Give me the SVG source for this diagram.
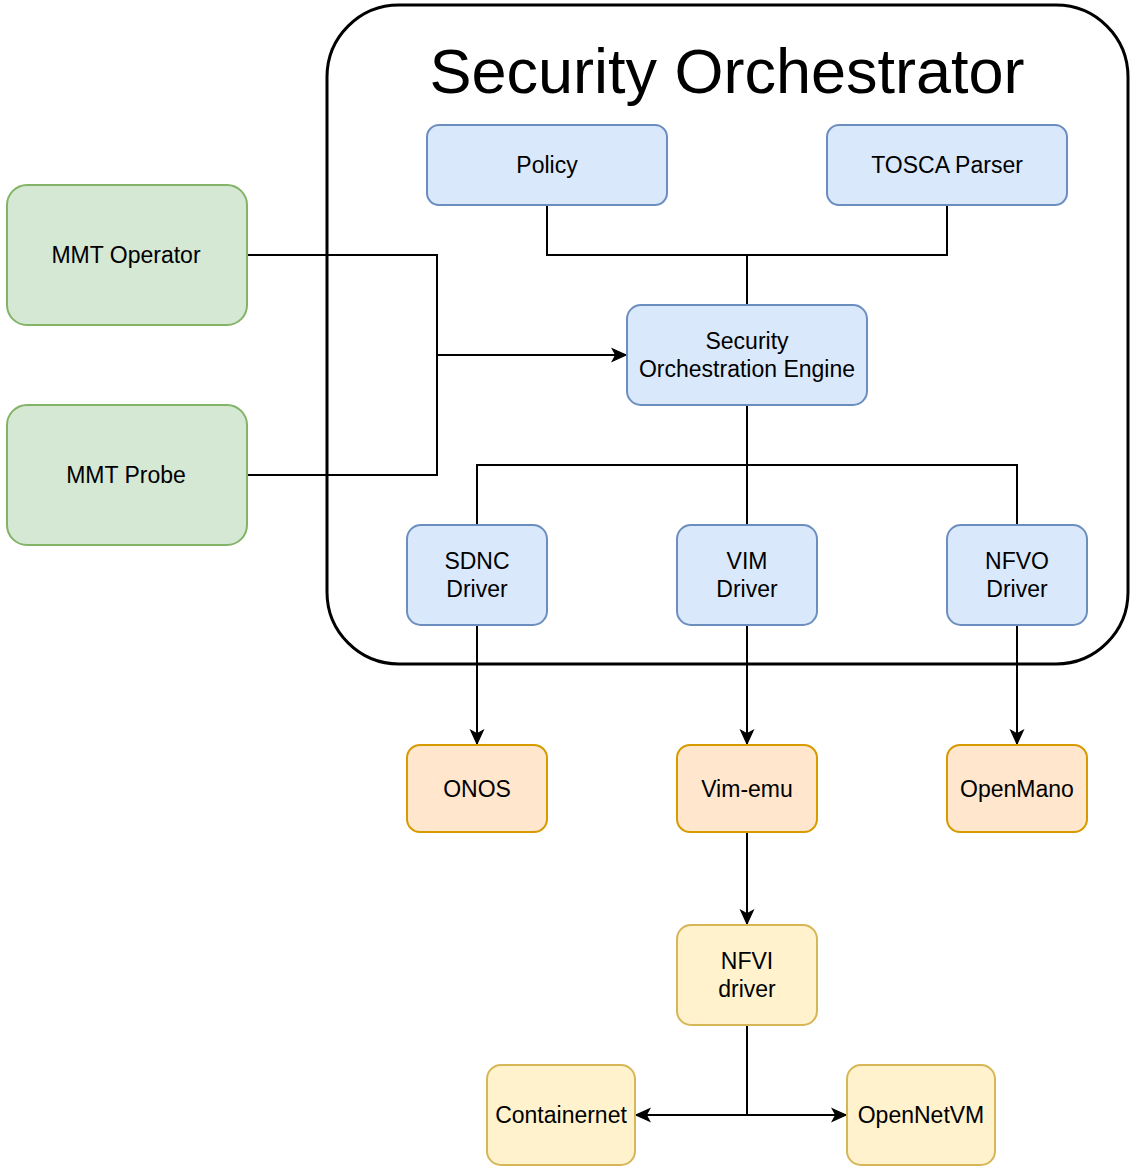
<svg xmlns="http://www.w3.org/2000/svg" width="1134" height="1172" viewBox="0 0 1134 1172">
<defs>
<marker id="arr" viewBox="0 0 14 14" refX="13" refY="7" markerWidth="16" markerHeight="16" markerUnits="userSpaceOnUse" orient="auto">
<path d="M1,1.5 L13,7 L1,12.5 L4,7 Z" fill="#000" stroke="#000" stroke-width="1"/>
</marker>
</defs>
<style>
text{font-family:"Liberation Sans",Arial,Helvetica,sans-serif;font-size:23px;fill:#000;text-anchor:middle}
.title{font-size:63px}
.blue{fill:#dae8fc;stroke:#6c8ebf;stroke-width:2}
.green{fill:#d5e8d4;stroke:#82b366;stroke-width:2}
.orange{fill:#ffe6cc;stroke:#d79b00;stroke-width:2}
.yellow{fill:#fff2cc;stroke:#d6b656;stroke-width:2}
.ln{fill:none;stroke:#000;stroke-width:2}
.ar{fill:none;stroke:#000;stroke-width:2;marker-end:url(#arr)}
</style>
<rect width="1134" height="1172" fill="#fff"/>
<g id="connectors">
<path class="ln" d="M547,205 V255 H947 V205"/>
<path class="ln" d="M747,255 V305"/>
<path class="ln" d="M247,255 H437 V475 H247"/>
<path class="ar" d="M437,355 H626"/>
<path class="ln" d="M747,405 V525"/>
<path class="ln" d="M477,525 V465 H1017 V525"/>
<path class="ar" d="M477,625 V744"/>
<path class="ar" d="M747,625 V744"/>
<path class="ar" d="M1017,625 V744"/>
<path class="ar" d="M747,832 V924"/>
<path class="ln" d="M747,1025 V1115"/>
<path class="ar" d="M747,1115 H636"/>
<path class="ar" d="M747,1115 H846"/>
</g>
<g id="security-orchestrator">
<rect x="327" y="5" width="801" height="659" rx="72" ry="72" fill="none" stroke="#000" stroke-width="3"/>
<text class="title" x="727" y="93">Security Orchestrator</text>
</g>
<g id="policy"><rect class="blue" x="427" y="125" width="240" height="80" rx="12"/><text x="547" y="173">Policy</text></g>
<g id="tosca-parser"><rect class="blue" x="827" y="125" width="240" height="80" rx="12"/><text x="947" y="173">TOSCA Parser</text></g>
<g id="engine"><rect class="blue" x="627" y="305" width="240" height="100" rx="14"/><text x="747" y="349">Security</text><text x="747" y="377">Orchestration Engine</text></g>
<g id="mmt-operator"><rect class="green" x="7" y="185" width="240" height="140" rx="20"/><text x="126" y="263">MMT Operator</text></g>
<g id="mmt-probe"><rect class="green" x="7" y="405" width="240" height="140" rx="20"/><text x="126" y="483">MMT Probe</text></g>
<g id="sdnc-driver"><rect class="blue" x="407" y="525" width="140" height="100" rx="14"/><text x="477" y="569">SDNC</text><text x="477" y="597">Driver</text></g>
<g id="vim-driver"><rect class="blue" x="677" y="525" width="140" height="100" rx="14"/><text x="747" y="569">VIM</text><text x="747" y="597">Driver</text></g>
<g id="nfvo-driver"><rect class="blue" x="947" y="525" width="140" height="100" rx="14"/><text x="1017" y="569">NFVO</text><text x="1017" y="597">Driver</text></g>
<g id="onos"><rect class="orange" x="407" y="745" width="140" height="87" rx="13"/><text x="477" y="797">ONOS</text></g>
<g id="vim-emu"><rect class="orange" x="677" y="745" width="140" height="87" rx="13"/><text x="747" y="797">Vim-emu</text></g>
<g id="openmano"><rect class="orange" x="947" y="745" width="140" height="87" rx="13"/><text x="1017" y="797">OpenMano</text></g>
<g id="nfvi-driver"><rect class="yellow" x="677" y="925" width="140" height="100" rx="14"/><text x="747" y="969">NFVI</text><text x="747" y="997">driver</text></g>
<g id="containernet"><rect class="yellow" x="487" y="1065" width="148" height="100" rx="14"/><text x="561" y="1123">Containernet</text></g>
<g id="opennetvm"><rect class="yellow" x="847" y="1065" width="148" height="100" rx="14"/><text x="921" y="1123">OpenNetVM</text></g>
</svg>
